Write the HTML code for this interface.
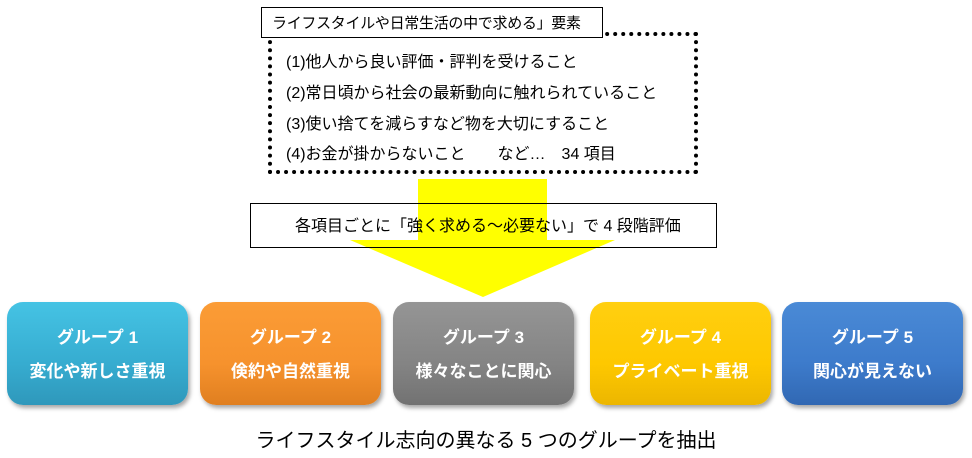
<!DOCTYPE html>
<html><head><meta charset="utf-8"><style>
body{margin:0;width:972px;height:458px;background:#fff;position:relative;overflow:hidden;font-family:"Liberation Sans","Noto Sans CJK JP",sans-serif;}
.a{position:absolute;}
.dot{left:268px;top:32px;width:422px;height:134px;border:4px dotted #000;}
.t1{left:261px;top:7px;width:342px;height:31px;border:1px solid #000;background:#fff;font-size:15px;line-height:31px;padding-left:10px;box-sizing:border-box;white-space:nowrap;letter-spacing:-0.3px;}
.li{left:286px;font-size:16px;color:#000;white-space:nowrap;}
.mid{left:250px;top:203px;width:467px;height:45px;border:1px solid #000;box-sizing:border-box;font-size:16px;line-height:45px;padding-left:44px;white-space:nowrap;}
.g{top:302px;width:181px;height:103px;border-radius:16px;color:#fff;font-weight:bold;font-size:17px;text-align:center;line-height:34px;box-sizing:border-box;padding-top:19px;box-shadow:2px 3px 4px rgba(0,0,0,0.35);white-space:nowrap;}
</style></head><body>
<div class="a dot"></div>
<div class="a t1">ライフスタイルや日常生活の中で求める」要素</div>
<div class="a li" style="top:48px">(1)他人から良い評価・評判を受けること</div>
<div class="a li" style="top:79px">(2)常日頃から社会の最新動向に触れられていること</div>
<div class="a li" style="top:110px">(3)使い捨てを減らすなど物を大切にすること</div>
<div class="a li" style="top:140px">(4)お金が掛からないこと　　など…　34 項目</div>
<svg class="a" style="left:0;top:0" width="972" height="458"><polygon points="418,179 547,179 547,240 615,240 483,297 350,240 418,240" fill="#ffff00"/></svg>
<div class="a mid">各項目ごとに「強く求める～必要ない」で 4 段階評価</div>
<div class="a g" style="left:7px;background:linear-gradient(#45c3e4,#36acd0 60%,#2f98bb)">グループ 1<br>変化や新しさ重視</div>
<div class="a g" style="left:200px;background:linear-gradient(#fb9c36,#f6922d 60%,#e07f20)">グループ 2<br>倹約や自然重視</div>
<div class="a g" style="left:393px;background:linear-gradient(#959595,#848484 60%,#727272)">グループ 3<br>様々なことに関心</div>
<div class="a g" style="left:590px;background:linear-gradient(#ffcf10,#fec800 60%,#ecb600)">グループ 4<br>プライベート重視</div>
<div class="a g" style="left:782px;background:linear-gradient(#4a8ad6,#3d7bcb 60%,#3168b3)">グループ 5<br>関心が見えない</div>
<div class="a" style="left:0;width:972px;top:424px;text-align:center;font-size:20px;white-space:nowrap">ライフスタイル志向の異なる 5 つのグループを抽出</div>
</body></html>
